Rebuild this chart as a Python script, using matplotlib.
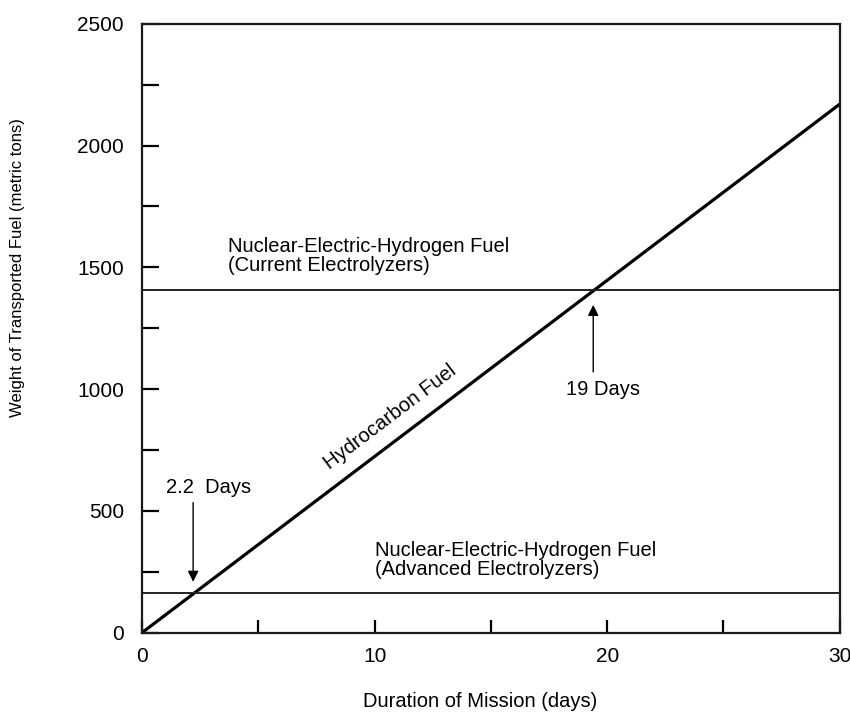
import numpy as np
import matplotlib
matplotlib.use('Agg')
import matplotlib.pyplot as plt
from matplotlib.ticker import MultipleLocator

# ── DATA ───────────────────────────────────────────────────
days          = [0, 30]
hydrocarbon   = [0, 2170]          # metric tons, ~72 t/day
current_elec  = [1405, 1405]       # nuclear-electric, current electrolyzers
advanced_elec = [162, 162]         # nuclear-electric, advanced electrolyzers

x_ticks = [0, 10, 20, 30]
y_ticks = [0, 500, 1000, 1500, 2000, 2500]

breakeven_days = [2.2, 19.4]
breakeven_labels = ['2.2  Days', '19 Days']

# ── STYLE ──────────────────────────────────────────────────
FONT = 'Liberation Sans'
plt.rcParams['font.family'] = [FONT, 'DejaVu Sans']
TXT = 14.5

fig = plt.figure(figsize=(8.5, 7.19), dpi=100)
ax = fig.add_axes([0.167, 0.12, 0.821, 0.847])

ax.plot(days, hydrocarbon, color='black', lw=2.3, solid_capstyle='butt')
ax.plot(days, current_elec, color='#222222', lw=1.4)
ax.plot(days, advanced_elec, color='#222222', lw=1.4)

ax.set_xlim(0, 30)
ax.set_ylim(0, 2500)
ax.set_xticks(x_ticks)
ax.set_yticks(y_ticks)
ax.xaxis.set_minor_locator(MultipleLocator(5))
ax.yaxis.set_minor_locator(MultipleLocator(250))
ax.tick_params(axis='y', which='both', direction='in', length=12, width=1.6,
               pad=13, labelsize=15, right=False)
ax.tick_params(axis='x', which='both', direction='in', length=9.5, width=1.6,
               pad=10, labelsize=15, top=False)
for s in ax.spines.values():
    s.set_linewidth(1.6)
    s.set_color('#1a1a1a')

ax.set_xlabel('Duration of Mission (days)', fontsize=TXT)
ax.xaxis.set_label_coords(0.484, -0.098)
ax.set_ylabel('Weight of Transported Fuel (metric tons)', fontsize=12)
ax.yaxis.set_label_coords(-0.168, 0.60)

# line labels
ax.text(3.7, 1470, 'Nuclear-Electric-Hydrogen Fuel\n(Current Electrolyzers)',
        fontsize=TXT, ha='left', va='bottom', linespacing=1.0)
ax.text(10.0, 222, 'Nuclear-Electric-Hydrogen Fuel\n(Advanced Electrolyzers)',
        fontsize=TXT, ha='left', va='bottom', linespacing=1.0)

# rotate along hydrocarbon line in screen space
p0 = ax.transData.transform((days[0], hydrocarbon[0]))
p1 = ax.transData.transform((days[1], hydrocarbon[1]))
angle = np.degrees(np.arctan2(p1[1] - p0[1], p1[0] - p0[0]))
ax.text(10.66, 887, 'Hydrocarbon Fuel', fontsize=TXT, rotation=angle,
        ha='center', va='center', rotation_mode='anchor')

# break-even arrows
arrow = dict(arrowstyle='-|>', color='black', lw=1.0, mutation_scale=16,
             shrinkA=0, shrinkB=0)
ax.annotate('', xy=(breakeven_days[0], 209), xytext=(breakeven_days[0], 534),
            arrowprops=arrow)
ax.text(2.85, 595, breakeven_labels[0], fontsize=TXT, ha='center', va='center')
ax.annotate('', xy=(breakeven_days[1], 1346), xytext=(breakeven_days[1], 1071),
            arrowprops=arrow)
ax.text(19.8, 997, breakeven_labels[1], fontsize=TXT, ha='center', va='center')

plt.savefig('out.png', dpi=100, facecolor='white')
